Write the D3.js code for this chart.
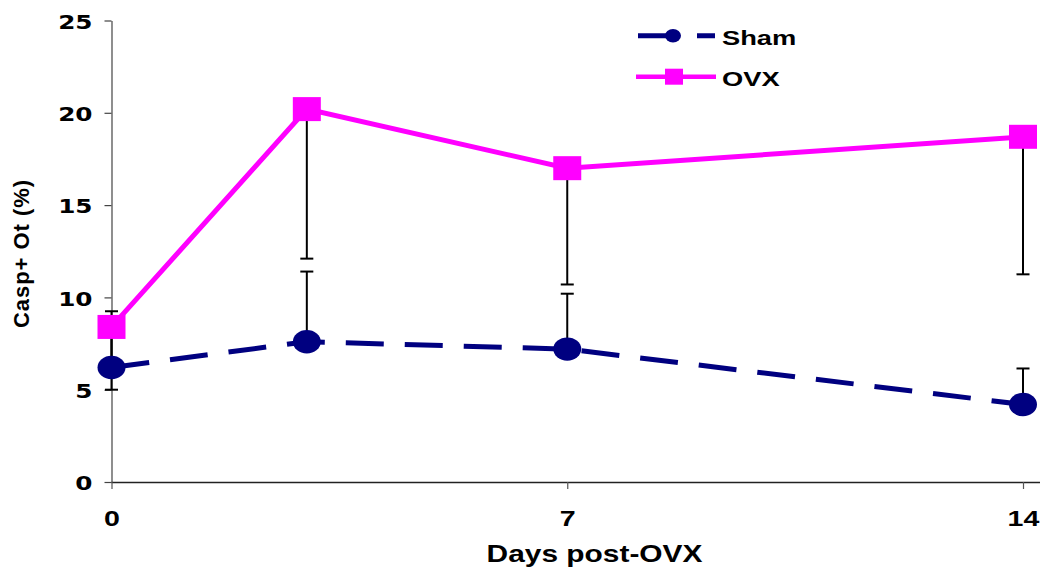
<!DOCTYPE html>
<html>
<head>
<meta charset="utf-8">
<script src="https://cdn.jsdelivr.net/npm/d3@7"></script>
<style>
  html, body { margin: 0; padding: 0; background: #ffffff; }
  svg { display: block; }
</style>
</head>
<body>
<svg id="chart" width="1040" height="575"></svg>
<script>
// Caspase-positive osteocytes after ovariectomy, mean with one-sided SD bars
const days = [0, 3, 7, 14];
const xTickValues = [0, 7, 14];
const yTickValues = [0, 5, 10, 15, 20, 25];

const shamMean = [6.2, 7.6, 7.2, 4.2];
const shamErr = [3.05, 3.8, 3.0, 1.95];   // drawn upward
const ovxMean = [8.4, 20.2, 17.0, 18.7];
const ovxErr = [3.4, 8.1, 6.3, 7.45];     // drawn downward

const seriesNames = ["Sham", "OVX"];
const xTitle = "Days post-OVX";
const yTitle = "Casp+ Ot (%)";

const NAVY = "#000080";
const MAGENTA = "#ff00ff";
const SX = 1.3; // horizontal widening applied to labels

const svg = d3.select("#chart");

const x = d3.scaleLinear().domain([0, 14]).range([111.5, 1023]);
const y = d3.scaleLinear().domain([0, 25]).range([482, 20.5]);

// ---- axes ----
const yAxis = svg.append("g")
  .attr("transform", `translate(${x(0)},0)`)
  .call(d3.axisLeft(y).tickValues(yTickValues).tickSize(7).tickSizeOuter(0));
yAxis.select(".domain").attr("stroke", "#444").attr("stroke-width", 1.2);
yAxis.selectAll(".tick line").attr("stroke", "#444").attr("stroke-width", 1.2);
yAxis.selectAll(".tick text")
  .attr("x", 0).attr("dy", "0.40em")
  .attr("transform", `translate(-19,0) scale(${SX},1)`)
  .attr("font-family", "'DejaVu Sans', Verdana, sans-serif")
  .attr("font-weight", "bold").attr("font-size", 19)
  .attr("fill", "#000").attr("text-anchor", "end");

const xAxis = svg.append("g")
  .attr("transform", `translate(0,${y(0)})`)
  .call(d3.axisBottom(x).tickValues(xTickValues).tickFormat(d3.format("d")).tickSize(7).tickSizeOuter(0));
xAxis.select(".domain").attr("d", `M${x(0)},0.5H1040`).attr("stroke", "#222").attr("stroke-width", 1.5);
xAxis.selectAll(".tick line").attr("stroke", "#555").attr("stroke-width", 1.2);
xAxis.selectAll(".tick text")
  .attr("y", 0).attr("dy", 0)
  .attr("transform", `translate(0,44) scale(${SX},1)`)
  .attr("font-family", "'Liberation Sans', Arial, sans-serif")
  .attr("font-weight", "bold").attr("font-size", 22)
  .attr("fill", "#000").attr("text-anchor", "middle");

// axis titles
svg.append("text")
  .attr("transform", `translate(594.5,562) scale(${SX},1)`)
  .attr("text-anchor", "middle")
  .attr("font-family", "'Liberation Sans', Arial, sans-serif")
  .attr("font-weight", "bold").attr("font-size", 23)
  .text(xTitle);

svg.append("text")
  .attr("transform", "translate(28.5,254) rotate(-90)")
  .attr("text-anchor", "middle")
  .attr("font-family", "'Liberation Sans', Arial, sans-serif")
  .attr("font-weight", "bold").attr("font-size", 22)
  .attr("textLength", 148).attr("lengthAdjust", "spacing")
  .text(yTitle);

// ---- error bars ----
const bars = svg.append("g").attr("stroke", "#000").attr("stroke-width", 2);
function errorBars(means, errs, dir) {
  days.forEach((d, i) => {
    const cx = x(d);
    const y0 = y(means[i]);
    const y1 = y(means[i] + dir * errs[i]);
    bars.append("line").attr("x1", cx).attr("x2", cx).attr("y1", y0).attr("y2", y1);
    bars.append("line").attr("x1", cx - 6.5).attr("x2", cx + 6.5).attr("y1", y1).attr("y2", y1);
  });
}
errorBars(ovxMean, ovxErr, -1);
errorBars(shamMean, shamErr, 1);

// ---- lines ----
const line = d3.line().x((d, i) => x(days[i])).y(d => y(d));

svg.append("path")
  .datum(shamMean)
  .attr("d", line)
  .attr("fill", "none").attr("stroke", NAVY).attr("stroke-width", 5)
  .attr("stroke-dasharray", "38,21");

svg.append("path")
  .datum(ovxMean)
  .attr("d", line)
  .attr("fill", "none").attr("stroke", MAGENTA).attr("stroke-width", 5)
  .attr("stroke-linejoin", "miter");

// ---- markers ----
svg.append("g").selectAll("ellipse")
  .data(shamMean).join("ellipse")
  .attr("cx", (d, i) => x(days[i])).attr("cy", d => y(d))
  .attr("rx", 14).attr("ry", 11.7)
  .attr("fill", NAVY);

svg.append("g").selectAll("rect")
  .data(ovxMean).join("rect")
  .attr("x", (d, i) => x(days[i]) - 14).attr("y", d => y(d) - 12)
  .attr("width", 28).attr("height", 24)
  .attr("fill", MAGENTA);

// ---- legend ----
const legend = svg.append("g");
// Sham
legend.append("line")
  .attr("x1", 638).attr("x2", 715).attr("y1", 35.7).attr("y2", 35.7)
  .attr("stroke", NAVY).attr("stroke-width", 5).attr("stroke-dasharray", "38,21");
legend.append("ellipse")
  .attr("cx", 673).attr("cy", 35.7).attr("rx", 8).attr("ry", 6.7).attr("fill", NAVY);
legend.append("text")
  .attr("transform", `translate(722,45) scale(${SX},1)`)
  .attr("font-family", "'Liberation Sans', Arial, sans-serif")
  .attr("font-weight", "bold").attr("font-size", 21)
  .text(seriesNames[0]);
// OVX
legend.append("line")
  .attr("x1", 636).attr("x2", 716).attr("y1", 76.7).attr("y2", 76.7)
  .attr("stroke", MAGENTA).attr("stroke-width", 4.5);
legend.append("rect")
  .attr("x", 665).attr("y", 68.7).attr("width", 18).attr("height", 16)
  .attr("fill", MAGENTA);
legend.append("text")
  .attr("transform", `translate(722,86) scale(${SX},1)`)
  .attr("font-family", "'Liberation Sans', Arial, sans-serif")
  .attr("font-weight", "bold").attr("font-size", 21)
  .text(seriesNames[1]);
</script>
</body>
</html>
